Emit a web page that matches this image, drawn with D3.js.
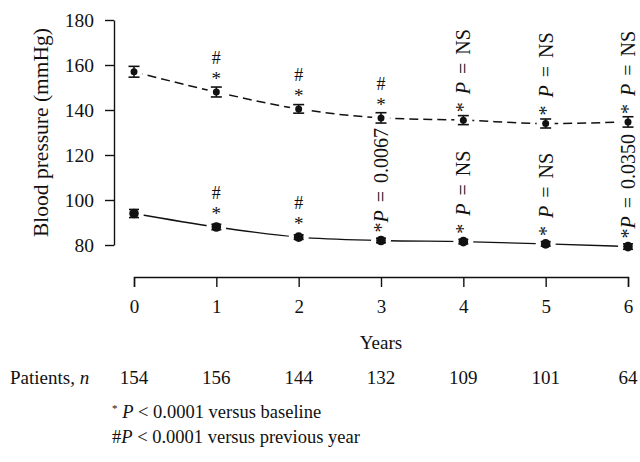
<!DOCTYPE html>
<html>
<head>
<meta charset="utf-8">
<script src="https://cdn.jsdelivr.net/npm/d3@7"></script>
<style>
  body { margin: 0; background: #fff; }
  svg text { font-family: "Liberation Serif", "DejaVu Serif", serif; fill: #111; }
  .axis path, .axis line { stroke: #111; stroke-width: 1.4; }
</style>
</head>
<body>
<div id="chart"></div>
<script>
var years = [0, 1, 2, 3, 4, 5, 6];
var systolic = [157, 148, 140.5, 136.5, 135.5, 134, 134.7];
var systolicErr = [2.4, 2.2, 1.9, 2.3, 2.0, 2.0, 2.3];
var diastolic = [94, 88, 83.5, 82, 81.5, 80.5, 79.3];
var diastolicErr = [1.8, 1.2, 1.0, 1.0, 1.0, 1.0, 1.2];
var patients = [154, 156, 144, 132, 109, 101, 64];
var yTicks = [80, 100, 120, 140, 160, 180];
// "#" = hash over star, otherwise rotated text
var systolicNotes = ["", "#", "#", "#", "* P = NS", "* P = NS", "* P = NS"];
var diastolicNotes = ["", "#", "#", "*P = 0.0067", "* P = NS", "* P = NS", "*P = 0.0350"];

var width = 640, height = 462;

var svg = d3.select("#chart").append("svg")
    .attr("width", width)
    .attr("height", height);

var x = d3.scaleLinear().domain([0, 6]).range([134, 628]);
var y = d3.scaleLinear().domain([80, 180]).range([245, 20]);

// y axis
var yAxis = d3.axisLeft(y).tickValues(yTicks).tickSize(9).tickSizeOuter(0).tickPadding(11);
var gy = svg.append("g").attr("class", "axis")
    .attr("transform", "translate(114,0)")
    .call(yAxis);
gy.selectAll("text").style("font-size", "19.5px");

svg.append("text")
    .attr("transform", "translate(41," + y(130) + ") rotate(-90)")
    .attr("text-anchor", "middle")
    .attr("dominant-baseline", "central")
    .style("font-size", "21.5px")
    .text("Blood pressure (mmHg)");

// x axis
var xAxis = d3.axisBottom(x).tickValues(years).tickFormat(d3.format("d"))
    .tickSize(10).tickSizeOuter(10).tickPadding(13);
var gx = svg.append("g").attr("class", "axis")
    .attr("transform", "translate(0,277)")
    .call(xAxis);
gx.selectAll("text").style("font-size", "19px");

svg.append("text")
    .attr("x", x(3)).attr("y", 349)
    .attr("text-anchor", "middle")
    .style("font-size", "19px")
    .text("Years");

// patients row
var pl = svg.append("text").attr("x", 10).attr("y", 384).style("font-size", "19px");
pl.append("tspan").text("Patients, ");
pl.append("tspan").style("font-style", "italic").text("n");

svg.selectAll(".npat").data(patients).enter().append("text")
    .attr("class", "npat")
    .attr("x", function(d, i) { return x(years[i]); })
    .attr("y", 384)
    .attr("text-anchor", "middle")
    .style("font-size", "19px")
    .text(function(d) { return d; });

// lines
var line = d3.line()
    .x(function(d, i) { return x(years[i]); })
    .y(function(d) { return y(d); })
    .curve(d3.curveMonotoneX);

svg.append("path").datum(systolic)
    .attr("d", line)
    .attr("fill", "none")
    .attr("stroke", "#111")
    .attr("stroke-width", 1.5)
    .attr("stroke-dasharray", "9,5");

svg.append("path").datum(diastolic)
    .attr("d", line)
    .attr("fill", "none")
    .attr("stroke", "#111")
    .attr("stroke-width", 1.4);

function drawSeries(vals, errs, r, cap, gap) {
  var g = svg.append("g");
  // gap around each marker
  g.selectAll(".gap").data(vals).enter().append("circle")
      .attr("cx", function(d, i) { return x(years[i]); })
      .attr("cy", function(d) { return y(d); })
      .attr("r", gap)
      .attr("fill", "#fff");
  var eb = g.selectAll(".eb").data(vals).enter().append("g")
      .attr("transform", function(d, i) { return "translate(" + x(years[i]) + ",0)"; });
  eb.append("line")
      .attr("y1", function(d, i) { return y(d - errs[i]); })
      .attr("y2", function(d, i) { return y(d + errs[i]); })
      .attr("stroke", "#111").attr("stroke-width", 1.5);
  eb.append("line")
      .attr("x1", -cap).attr("x2", cap)
      .attr("y1", function(d, i) { return y(d + errs[i]); })
      .attr("y2", function(d, i) { return y(d + errs[i]); })
      .attr("stroke", "#111").attr("stroke-width", 1.6);
  eb.append("line")
      .attr("x1", -cap).attr("x2", cap)
      .attr("y1", function(d, i) { return y(d - errs[i]); })
      .attr("y2", function(d, i) { return y(d - errs[i]); })
      .attr("stroke", "#111").attr("stroke-width", 1.6);
  eb.append("circle")
      .attr("cy", function(d) { return y(d); })
      .attr("r", r)
      .attr("fill", "#111");
}

drawSeries(systolic, systolicErr, 3.5, 5.5, 9);
drawSeries(diastolic, diastolicErr, 4.8, 5, 10);

function drawNotes(vals, notes) {
  notes.forEach(function(n, i) {
    if (!n) return;
    var cx = x(years[i]), cy = y(vals[i]);
    if (n === "#") {
      svg.append("text").attr("x", cx).attr("y", cy - 7)
          .attr("text-anchor", "middle").style("font-size", "19px").text("*");
      svg.append("text").attr("x", cx).attr("y", cy - 28)
          .attr("text-anchor", "middle").style("font-size", "18px").text("#");
      return;
    }
    var t = svg.append("text")
        .attr("transform", "translate(" + cx + "," + (cy - 8) + ") rotate(-90)")
        .attr("dominant-baseline", "central")
        .style("font-size", "20px")
        .style("word-spacing", "3px");
    var star = n.indexOf("* ") === 0 ? "* " : "*";
    var rest = n.slice(n.indexOf("P") + 1);
    t.append("tspan").text(star);
    t.append("tspan").style("font-style", "italic").text("P");
    t.append("tspan").text(rest);
  });
}

drawNotes(systolic, systolicNotes);
drawNotes(diastolic, diastolicNotes);

// footnotes
var f1 = svg.append("text").attr("x", 112).attr("y", 418).style("font-size", "18.5px");
f1.append("tspan").style("font-size", "11px").attr("dy", -6).text("*");
f1.append("tspan").attr("dy", 6).text(" ");
f1.append("tspan").style("font-style", "italic").text("P");
f1.append("tspan").text(" < 0.0001  versus baseline");

var f2 = svg.append("text").attr("x", 112).attr("y", 443).style("font-size", "18.5px");
f2.append("tspan").text("#");
f2.append("tspan").style("font-style", "italic").text("P");
f2.append("tspan").text(" < 0.0001  versus previous year");
</script>
</body>
</html>
